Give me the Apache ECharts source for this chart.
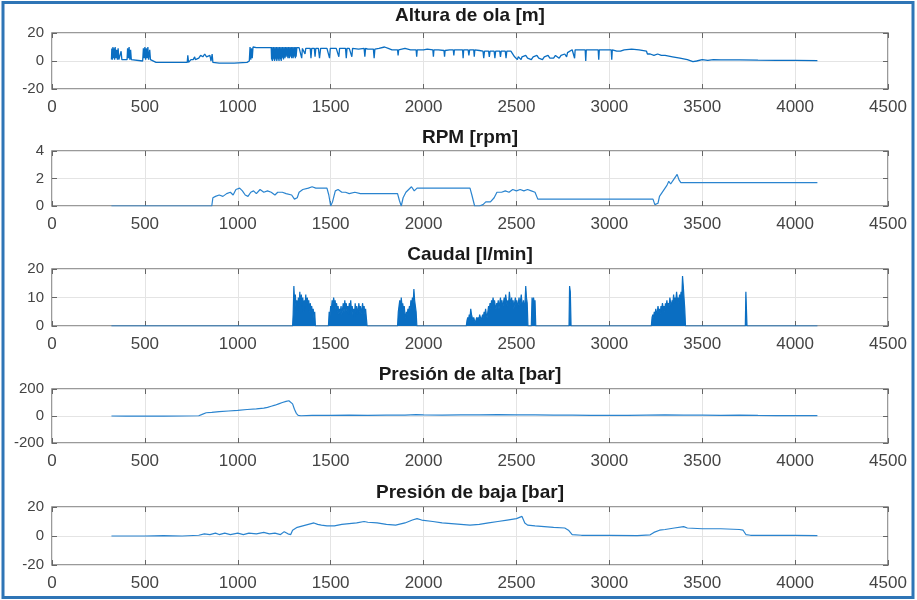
<!DOCTYPE html>
<html><head><meta charset="utf-8">
<script src="https://cdn.jsdelivr.net/npm/echarts@6/dist/echarts.min.js"></script>
<style>html,body{margin:0;padding:0;background:#fff}#c{width:917px;height:600px}</style>
</head><body><div id="c"></div>
<script>
const titles = ['Altura de ola [m]', 'RPM [rpm]', 'Caudal [l/min]', 'Presión de alta [bar]', 'Presión de baja [bar]'];
const xMin = 0, xMax = 4500, xStep = 500;
const yMins = [-20, 0, 0, -200, -20];
const yMaxs = [20, 4, 20, 200, 20];
const ySteps = [20, 2, 10, 200, 20];

const alturaData = [
[320,1],[322,9],[325,1],[328,10],[331,2],[334,9],[337,1],[340,10],[344,2],[348,8],[352,1],[356,9],[360,1],[366,1],[372,7],[376,1],[382,0],
[404,1],[407,9],[411,2],[415,10],[419,1],[423,8],[427,1],[432,0],
[488,0],[492,9],[496,2],[500,10],[504,1],[508,9],[512,2],[516,10],[520,1],[526,8],[530,1],[540,0],[560,-1],[640,-1],[700,-1],
[728,-1],[731,4],[735,-1],[748,1],[760,1],[768,3],[772,1],[790,2],[800,4],[812,3],[822,5],[832,3],[842,2],[850,4],[856,0],[862,5],[866,-1],
[900,-1.5],[980,-1.5],[1050,-1],[1062,0],
[1066,10],[1070,1],[1074,9],[1078,2],[1082,10],[1086,9.5],[1100,9.5],[1130,9.5],[1160,9.5],
[1180,9.5],[1182,1],[1184,10],[1186,0],[1188,9],[1190,2],[1192,10],[1194,1],[1196,9],[1198,0],[1200,10],[1202,2],[1204,9],[1206,1],[1208,10],[1210,0],[1212,9],[1214,2],[1216,10],[1218,1],[1220,9],[1222,0],[1224,10],[1226,2],[1228,9],[1230,1],[1232,10],[1234,0],[1236,9],[1238,2],[1240,10],
[1242,3],[1244,9],[1246,1],[1248,10],[1250,4],[1252,9],[1254,2],[1256,10],[1258,3],[1260,9],[1262,5],[1264,10],[1266,3],[1268,9],[1270,2],[1272,10],[1274,4],[1276,9],[1278,2],[1280,10],[1282,3],[1284,9],[1286,5],[1288,10],[1290,2],[1292,9],[1294,4],[1296,10],[1298,2],[1300,9],[1302,3],[1304,10],[1306,4],[1308,9],[1310,2],[1312,10],[1314,3],[1318,9.5],
[1330,9.5],[1340,9],[1344,2],[1348,9],[1356,8],[1362,5],[1366,9],[1372,8],
[1390,9],[1394,2],[1398,9],[1412,9],[1416,3],[1420,9],[1434,9],[1440,2],[1446,9],[1458,9],
[1480,9],[1490,9],[1494,2],[1498,9],[1512,9],
[1530,9],[1540,9],[1544,3],[1548,9],[1565,9],[1580,9],[1584,2],[1588,9],[1600,9],[1610,9],[1614,3],[1618,9],
[1650,8.5],[1680,9],[1684,3],[1688,9],[1700,8.5],[1730,8.5],[1734,2],[1738,8.5],
[1760,9],[1790,10],[1810,9],[1830,8],[1860,8],[1863,4],[1866,8],[1900,9],[1930,8],[1960,8],[1963,3],[1966,8],
[2000,8],[2020,8.5],[2050,8],[2053,3],[2056,8],[2080,8],[2110,7.5],[2113,3],[2116,7.5],[2140,8],[2160,8],[2163,4],[2166,8],
[2190,8],[2210,8],[2213,2],[2216,8],[2240,8],[2244,4],[2248,8],[2270,8],[2273,3],[2276,8],
[2300,7.5],[2320,7],[2324,2],[2328,7],[2350,7],[2354,3],[2358,7],[2380,7],[2384,2],[2388,7],[2410,7],[2414,3],[2418,7],[2440,7],[2444,2],[2448,7],
[2470,7],[2480,6],[2490,3],[2500,3],[2505,1],[2510,3],[2515,2],[2520,4],[2525,1],[2530,3],[2540,2],[2550,4],[2560,2],[2570,3],[2580,1],[2590,3],[2600,2],[2610,4],[2620,2],[2630,3],[2640,1],[2650,3],[2660,2],[2670,4],[2680,2],[2690,3],[2700,2],[2710,4],[2720,3],[2730,2],[2740,4],[2750,3],[2760,5],[2770,3],[2775,6],[2780,7],
[2800,8],[2810,8],[2813,2],[2816,8],[2850,8],[2870,8],[2873,0],[2876,8],[2900,8],[2940,8],[2943,1],[2946,8],[2970,8],[2990,8],[3010,8],[3013,1],[3016,8],
[3040,7],[3060,7],[3080,8],[3120,8.5],[3160,8],[3200,7],[3205,5],[3220,5],[3240,4],[3260,5],[3280,4],[3300,4],
[3340,3],[3380,2],[3420,1],[3450,-0.5],[3470,0],[3500,1],[3530,0.5],[3560,1],[3600,0.8],[3700,0.8],[3800,0.6],[3900,0.5],[4000,0.4],[4120,0.3]
];

const rpmData = [
[320,0],[860,0],[866,0.6],[880,0.7],[900,0.8],[920,0.7],[940,0.9],[960,1.0],[975,0.8],[990,1.2],[1010,1.3],[1025,1.1],[1040,0.8],[1055,0.7],[1070,1.0],[1085,1.1],[1100,0.9],[1120,1.2],[1140,1.0],[1160,1.1],[1180,1.0],[1200,0.8],[1215,1.0],[1240,1.0],[1260,0.9],[1290,0.8],[1305,0.5],[1320,0.6],[1330,1.0],[1350,1.2],[1380,1.3],[1400,1.4],[1420,1.3],[1450,1.3],[1480,1.3],[1490,0.8],[1500,0],[1510,0.3],[1525,1.1],[1540,1.2],[1560,1.0],[1580,1.0],[1600,0.9],[1630,1.0],[1660,0.9],[1700,0.9],[1780,0.9],[1860,0.9],[1870,0.4],[1880,0],[1890,0.6],[1905,1.0],[1920,1.2],[1935,1.4],[1950,1.1],[1965,1.3],[2000,1.3],[2100,1.3],[2200,1.3],[2250,1.3],[2260,0.8],[2275,0],[2300,0],[2320,0.1],[2335,0.3],[2360,0.3],[2380,0.6],[2395,1.0],[2420,1.0],[2440,1.1],[2460,1.0],[2480,1.2],[2500,1.1],[2520,1.2],[2540,1.1],[2560,1.2],[2580,1.1],[2600,1.0],[2615,0.5],[2700,0.5],[2900,0.5],[3100,0.5],[3235,0.5],[3245,0.1],[3255,0],[3262,0.2],[3270,0.7],[3290,1.1],[3310,1.5],[3320,1.8],[3330,1.6],[3345,1.9],[3355,1.8],[3365,2.3],[3375,1.9],[3385,1.7],[3500,1.7],[3800,1.7],[4120,1.7]
];

const caudalData = [
[320,0],[1295,0],[1298,4],[1302,14],[1306,8],[1310,11],[1314,6],[1318,9],[1322,5],[1326,10],[1330,7],[1334,12],[1338,6],[1342,11],[1346,8],[1350,10],[1354,5],[1358,9],[1362,7],[1366,11],[1370,6],[1374,10],[1378,8],[1382,9],[1386,5],[1390,8],[1394,6],[1398,7],[1402,4],[1406,6],[1410,3],[1414,5],[1418,0],
[1488,0],[1492,5],[1496,3],[1500,7],[1504,6],[1508,9],[1512,7],[1516,10],[1520,8],[1524,9],[1528,6],[1532,8],[1536,5],[1540,7],[1544,4],[1548,6],[1552,5],[1556,7],[1560,4],[1564,6],[1568,8],[1572,5],[1576,9],[1580,6],[1584,8],[1588,5],[1592,7],[1596,4],[1600,8],[1604,6],[1608,9],[1612,5],[1616,7],[1620,4],[1624,6],[1628,3],[1632,8],[1636,5],[1640,7],[1644,4],[1648,6],[1652,8],[1656,5],[1660,7],[1664,4],[1668,6],[1672,8],[1676,5],[1680,7],[1684,4],[1688,6],[1692,3],[1696,0],
[1860,0],[1864,5],[1868,7],[1872,9],[1876,6],[1880,10],[1884,7],[1888,8],[1892,5],[1896,7],[1900,4],[1904,3],[1908,5],[1912,4],[1916,6],[1920,5],[1924,7],[1928,6],[1932,9],[1936,7],[1940,10],[1944,8],[1948,13],[1952,9],[1956,7],[1960,5],[1964,0],
[2230,0],[2234,2],[2238,3],[2242,2],[2246,4],[2250,3],[2254,6],[2258,4],[2262,3],[2266,2],[2270,3],[2274,2],[2278,1],[2282,2],[2286,3],[2290,2],[2294,3],[2298,2],[2302,4],[2306,3],[2310,2],[2314,3],[2318,4],[2322,3],[2326,5],[2330,4],[2334,6],[2338,4],[2342,3],[2346,5],[2350,7],[2354,6],[2358,8],[2362,6],[2366,9],[2370,7],[2374,10],[2378,8],[2382,9],[2386,7],[2390,6],[2394,8],[2398,7],[2402,9],[2406,6],[2410,8],[2414,10],[2418,7],[2422,9],[2426,6],[2430,8],[2434,10],[2438,8],[2442,11],[2446,9],[2450,7],[2454,9],[2458,8],[2462,12],[2466,9],[2470,8],[2474,10],[2478,7],[2482,9],[2486,6],[2490,8],[2494,10],[2498,7],[2502,9],[2506,6],[2510,8],[2514,10],[2518,7],[2522,9],[2526,11],[2530,8],[2534,7],[2538,9],[2542,6],[2546,8],[2550,14],[2554,10],[2558,8],[2562,0],
[2580,0],[2584,10],[2588,7],[2592,10],[2596,8],[2600,9],[2604,0],
[2783,0],[2786,14],[2790,12],[2794,0],
[3226,0],[3230,3],[3234,4],[3238,3],[3242,5],[3246,4],[3250,6],[3254,4],[3258,5],[3262,7],[3266,5],[3270,6],[3274,4],[3278,7],[3282,6],[3286,8],[3290,6],[3294,7],[3298,5],[3302,8],[3306,7],[3310,9],[3314,6],[3318,8],[3322,7],[3326,10],[3330,8],[3334,7],[3338,9],[3342,8],[3346,11],[3350,8],[3354,10],[3358,9],[3362,12],[3366,9],[3370,10],[3374,8],[3378,11],[3382,9],[3386,12],[3390,10],[3394,17.5],[3398,14],[3402,10],[3406,6],[3410,0],
[3732,0],[3735,12],[3738,12],[3741,0],[4120,0]
];

const presionAltaData = [
[320,0],[400,-1],[500,0],[600,-1],[700,0],[790,2],[805,10],[815,18],[830,24],[860,27],[900,32],[950,37],[1000,42],[1050,48],[1100,53],[1140,58],[1160,64],[1180,72],[1200,80],[1220,90],[1240,100],[1260,108],[1275,113],[1285,110],[1295,90],[1305,50],[1315,20],[1325,5],[1340,2],[1400,5],[1500,4],[1600,6],[1700,5],[1800,7],[1900,6],[1960,10],[2000,8],[2100,7],[2200,8],[2300,9],[2400,10],[2500,9],[2600,8],[2700,7],[2800,6],[2900,4],[3000,5],[3100,4],[3200,6],[3300,8],[3400,7],[3500,6],[3600,5],[3700,6],[3800,4],[3900,3],[4000,3],[4120,3]
];

const presionBajaData = [
[320,0],[400,0],[500,0],[600,0.3],[700,0],[790,0.5],[820,1.5],[850,1],[880,2],[900,1],[930,2],[960,1],[1000,2],[1030,1],[1060,2],[1100,1.5],[1140,2.5],[1170,1.5],[1200,2],[1230,1],[1250,3],[1270,1.5],[1285,1],[1295,4],[1320,6],[1350,7],[1380,8],[1410,9],[1430,8],[1450,7.5],[1480,7],[1520,7],[1560,8],[1600,8.5],[1640,9],[1680,10],[1700,9.5],[1750,9],[1800,8],[1850,7.5],[1900,9],[1940,11],[1965,12],[1990,11],[2050,10],[2100,9],[2150,8.5],[2200,8],[2250,7.5],[2300,8],[2350,9],[2400,10],[2450,11],[2500,12],[2530,13.5],[2545,9],[2560,7.5],[2600,7],[2650,6.5],[2700,6],[2760,5.5],[2780,4],[2800,1],[2850,0.5],[3000,0.5],[3150,0.3],[3220,0.8],[3240,2.5],[3270,4],[3300,4.5],[3350,5.5],[3400,6.5],[3420,5.5],[3500,5],[3600,5],[3700,4.5],[3720,4],[3735,1],[3760,0.5],[3900,0.5],[4000,0.5],[4120,0.3]
];

const seriesData = [alturaData, rpmData, caudalData, presionAltaData, presionBajaData];

// layout
const gridTops = [33, 151, 269, 389, 507];
const gridHeights = [56, 55, 57, 54, 58];
const titleYs = [16, 138, 255, 375, 493];
const lineColor = '#2a84cf';
const fillColor = '#0a6ec2';
const fontFam = '"Liberation Sans", Arial, Helvetica, sans-serif';

const grids = [], xAxes = [], yAxes = [], series = [], graphics = [];
const plain = v => String(v);
for (let i = 0; i < 5; i++) {
  grids.push({left: 52, right: 29, top: gridTops[i], height: gridHeights[i], show: true,
    borderColor: '#7a7a7a', borderWidth: 1.5, backgroundColor: '#fff'});
  const tickStyle = {show: true, inside: true, length: 5, lineStyle: {color: '#666', width: 1}};
  xAxes.push({type: 'value', gridIndex: i, min: xMin, max: xMax, interval: xStep, position: 'bottom',
    axisLine: {show: false, onZero: false}, axisTick: tickStyle,
    axisLabel: {fontSize: 17, color: '#444', margin: 10, fontFamily: fontFam, formatter: plain},
    splitLine: {show: true, lineStyle: {color: '#e4e4e4', width: 1}}});
  xAxes.push({type: 'value', gridIndex: i, min: xMin, max: xMax, interval: xStep, position: 'top',
    axisLine: {show: false, onZero: false}, axisTick: tickStyle, axisLabel: {show: false}, splitLine: {show: false}});
  yAxes.push({type: 'value', gridIndex: i, min: yMins[i], max: yMaxs[i], interval: ySteps[i], position: 'left',
    axisLine: {show: false, onZero: false}, axisTick: tickStyle,
    axisLabel: {fontSize: 15, color: '#444', margin: 8, fontFamily: fontFam, formatter: plain},
    splitLine: {show: true, lineStyle: {color: '#e4e4e4', width: 1}}});
  yAxes.push({type: 'value', gridIndex: i, min: yMins[i], max: yMaxs[i], interval: ySteps[i], position: 'right',
    axisLine: {show: false, onZero: false}, axisTick: tickStyle, axisLabel: {show: false}, splitLine: {show: false}});
  const s = {type: 'line', xAxisIndex: 2 * i, yAxisIndex: 2 * i, data: seriesData[i],
    showSymbol: false, symbol: 'none', animation: false, silent: true,
    lineStyle: {color: i === 2 || i === 0 ? fillColor : lineColor, width: i === 0 ? 1.3 : 1.2},
    itemStyle: {color: lineColor}};
  if (i === 2) s.areaStyle = {color: fillColor, opacity: 1};
  series.push(s);
  graphics.push({type: 'text', x: 470, y: titleYs[i], style: {text: titles[i], fill: '#1a1a1a',
    font: 'bold 19px ' + fontFam, textAlign: 'center', textVerticalAlign: 'middle'}});
}
graphics.push({type: 'rect', shape: {x: 3, y: 2.5, width: 910, height: 595},
  style: {fill: 'none', stroke: '#2E75B6', lineWidth: 3}});

const chart = echarts.init(document.getElementById('c'));
chart.setOption({animation: false, backgroundColor: '#fff', grid: grids, xAxis: xAxes, yAxis: yAxes,
  series: series, graphic: graphics});
</script></body></html>
